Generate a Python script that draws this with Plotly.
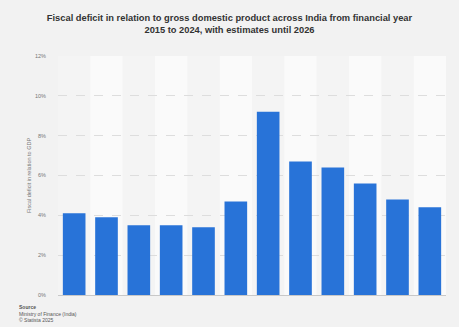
import plotly.graph_objects as go

years = ["2015", "2016", "2017", "2018", "2019", "2020", "2021", "2022", "2023", "2024", "2025*", "2026*"]
deficit = [4.1, 3.9, 3.5, 3.5, 3.4, 4.7, 9.2, 6.7, 6.4, 5.6, 4.8, 4.4]
tick_vals = [0, 2, 4, 6, 8, 10, 12]
tick_text = ["0%", "2%", "4%", "6%", "8%", "10%", "12%"]

fig = go.Figure()
fig.add_trace(go.Bar(x=list(range(len(years))), y=deficit, marker_color="#2873d8",
                     marker_line_width=0, width=0.7,
                     hovertext=years))

shapes = []
for i in range(len(years)):
    if i % 2 == 1:
        shapes.append(dict(type="rect", xref="x", yref="paper", x0=i - 0.5, x1=i + 0.5,
                           y0=0, y1=1, fillcolor="#fafafa", line_width=0, layer="below"))

fig.update_layout(
    width=459, height=327,
    paper_bgcolor="#f2f2f2", plot_bgcolor="#f4f4f4",
    margin=dict(l=58, r=13, t=56, b=32),
    shapes=shapes,
    showlegend=False,
    title=dict(text="<b>Fiscal deficit in relation to gross domestic product across India from financial year<br>2015 to 2024, with estimates until 2026</b>",
               x=0.5, xanchor="center", y=0.937, yanchor="top",
               font=dict(family="Liberation Sans, Arial", size=9.3, color="#333333")),
    font=dict(family="Liberation Sans, Arial"),
    bargap=0.3,
)
fig.update_xaxes(range=[-0.5, len(years) - 0.5], showticklabels=False, showgrid=False,
                 zeroline=False, showline=True, linecolor="#c8c8c8", linewidth=1, ticks="")
fig.update_yaxes(range=[0, 12], tickvals=tick_vals, ticktext=tick_text,
                 tickfont=dict(size=5.5, color="#777777"),
                 showgrid=True, gridcolor="#dddddd", griddash="dash", gridwidth=0.8,
                 zeroline=False, ticks="outside", ticklen=10, tickcolor="rgba(0,0,0,0)",
                 title=dict(text="Fiscal deficit in relation to GDP", font=dict(size=5.5, color="#777777"), standoff=2))

fig.add_annotation(xref="paper", yref="paper", x=-0.105, y=-0.03, xanchor="left", yanchor="top",
                   text="<b>Source</b><br>Ministry of Finance (India)<br>© Statista 2025",
                   showarrow=False, align="left", font=dict(size=5, color="#555555"))

fig.write_html("out.html", config={"displayModeBar": False},
               post_script="document.body.style.margin='0';document.body.style.overflow='hidden';")
